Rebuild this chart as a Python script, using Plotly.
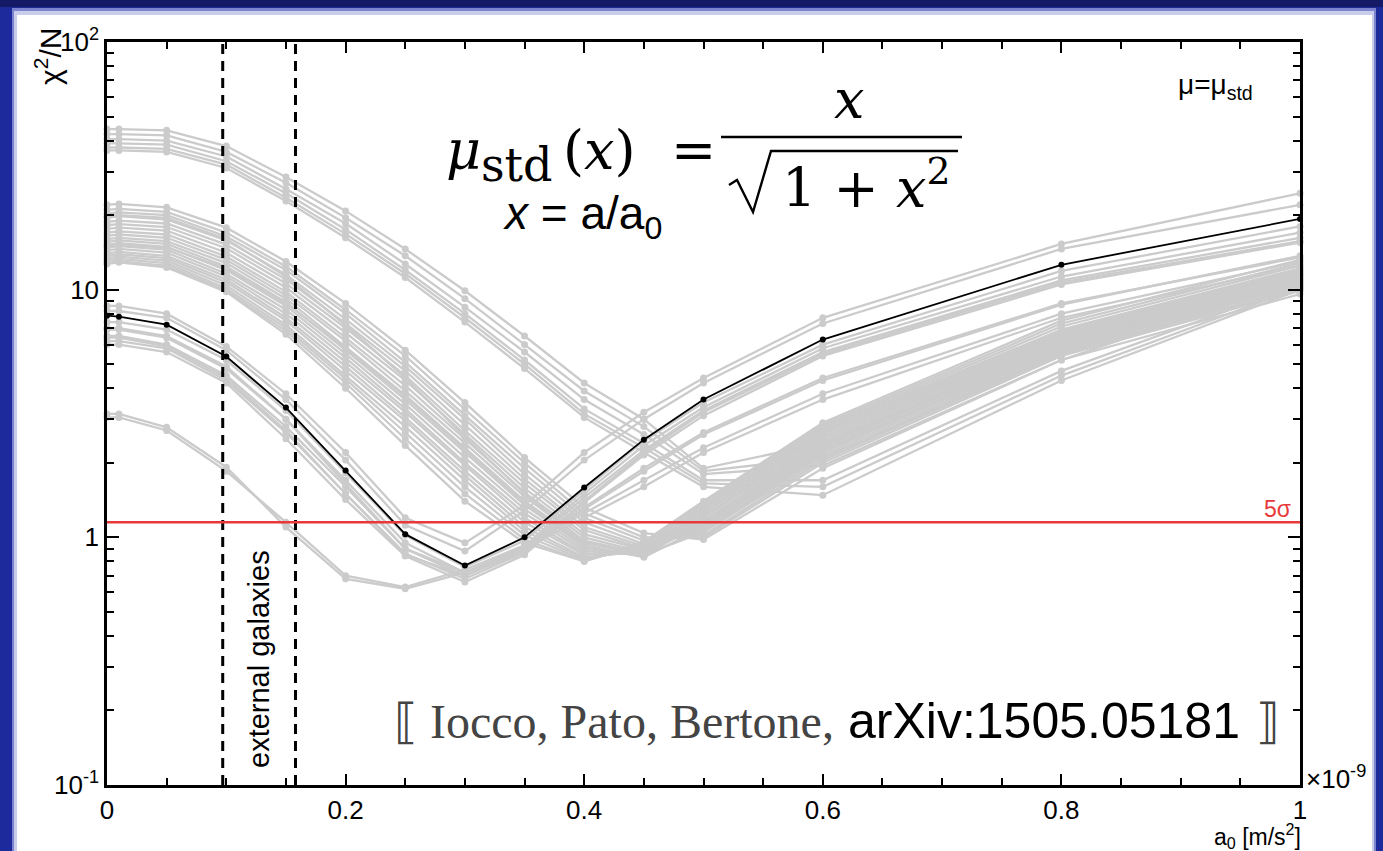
import plotly.graph_objects as go

# ---------------- data ----------------
A0 = [0, 0.01, 0.05, 0.1, 0.15, 0.2, 0.25, 0.3, 0.35, 0.4, 0.45, 0.5, 0.6, 0.8, 1.0]

BEST = [7.85, 7.78, 7.22, 5.37, 3.34, 1.86, 1.03, 0.77, 1.0, 1.59, 2.48, 3.6, 6.29, 12.6, 19.3]

TOP_GROUP = [
    [44.5, 44.5, 44.0, 38.0, 28.5, 20.8, 14.6, 9.9, 6.5, 4.2, 3.0, 1.9, 2.4, 6.0, 12.0],
    [42.5, 42.5, 42.0, 36.0, 27.0, 19.5, 13.7, 9.2, 6.0, 3.9, 2.8, 1.85, 2.1, 5.5, 11.5],
    [40.5, 40.5, 40.0, 34.5, 25.5, 18.5, 12.7, 8.5, 5.6, 3.6, 2.6, 1.8, 1.95, 5.2, 11.0],
    [39.0, 39.0, 38.5, 33.0, 24.5, 17.5, 12.0, 8.0, 5.2, 3.3, 2.4, 1.7, 1.7, 4.7, 10.5],
    [37.5, 37.5, 37.0, 32.0, 23.5, 16.8, 11.6, 7.7, 5.0, 3.15, 2.3, 1.65, 1.6, 4.5, 10.2],
    [36.5, 36.5, 36.0, 31.0, 22.8, 16.2, 11.2, 7.4, 4.8, 3.05, 2.2, 1.6, 1.48, 4.3, 10.0],
]

MID_GROUP = [
    [22.0, 22.2, 21.5, 17.8, 13.0, 8.8, 5.7, 3.5, 2.1, 1.32, 1.04, 0.98, 1.9, 5.2, 9.6],
    [21.0, 21.2, 20.6, 17.0, 12.4, 8.3, 5.4, 3.3, 2.0, 1.25, 1.0, 1.0, 2.0, 5.4, 9.9],
    [20.3, 20.5, 20.0, 16.4, 12.0, 8.0, 5.1, 3.1, 1.9, 1.2, 0.97, 1.02, 2.05, 5.5, 10.1],
    [19.8, 20.0, 19.5, 16.0, 11.3, 7.2, 4.4, 2.55, 1.5, 0.96, 0.85, 1.05, 2.2, 5.9, 10.6],
    [19.5, 19.8, 19.2, 15.8, 11.5, 7.6, 4.9, 3.0, 1.8, 1.15, 0.94, 1.05, 2.1, 5.6, 10.2],
    [18.8, 19.0, 18.5, 15.2, 11.0, 7.3, 4.7, 2.85, 1.72, 1.1, 0.92, 1.07, 2.15, 5.7, 10.4],
    [18.2, 18.4, 17.9, 14.7, 10.6, 7.0, 4.5, 2.7, 1.65, 1.07, 0.9, 1.09, 2.2, 5.8, 10.5],
    [17.6, 17.8, 17.3, 14.1, 10.2, 6.7, 4.3, 2.6, 1.58, 1.03, 0.89, 1.1, 2.25, 5.9, 10.7],
    [17.0, 17.2, 16.7, 13.6, 9.8, 6.4, 4.1, 2.5, 1.52, 1.0, 0.87, 1.12, 2.3, 6.0, 10.8],
    [16.5, 16.7, 16.2, 13.2, 9.5, 6.2, 3.9, 2.4, 1.46, 0.97, 0.86, 1.14, 2.35, 6.1, 11.0],
    [16.0, 16.2, 15.7, 12.8, 9.2, 5.9, 3.75, 2.3, 1.4, 0.95, 0.85, 1.15, 2.4, 6.2, 11.1],
    [15.6, 15.8, 15.3, 12.4, 8.9, 5.7, 3.6, 2.2, 1.35, 0.92, 0.84, 1.17, 2.45, 6.3, 11.3],
    [15.2, 15.4, 14.9, 12.0, 8.6, 5.5, 3.45, 2.1, 1.3, 0.9, 0.84, 1.2, 2.5, 6.4, 11.4],
    [15.0, 15.2, 14.8, 12.2, 8.8, 5.8, 3.7, 2.25, 1.38, 0.93, 0.83, 1.1, 2.3, 6.1, 11.0],
    [14.8, 15.0, 14.5, 11.6, 8.3, 5.3, 3.3, 2.0, 1.25, 0.88, 0.85, 1.22, 2.55, 6.5, 11.6],
    [14.4, 14.6, 14.1, 11.3, 8.0, 5.1, 3.2, 1.95, 1.2, 0.86, 0.86, 1.25, 2.6, 6.6, 11.7],
    [14.0, 14.2, 13.7, 11.0, 7.7, 4.9, 3.05, 1.85, 1.15, 0.85, 0.87, 1.27, 2.65, 6.7, 11.9],
    [13.7, 13.9, 13.4, 10.7, 7.5, 4.7, 2.95, 1.78, 1.1, 0.83, 0.88, 1.3, 2.7, 6.8, 12.0],
    [13.4, 13.6, 13.1, 10.4, 7.2, 4.5, 2.8, 1.7, 1.06, 0.82, 0.9, 1.32, 2.75, 6.9, 12.2],
    [13.1, 13.3, 12.8, 10.1, 7.0, 4.35, 2.65, 1.6, 1.02, 0.81, 0.92, 1.35, 2.8, 7.1, 12.5],
    [12.8, 13.0, 12.5, 9.9, 6.8, 4.2, 2.5, 1.5, 0.98, 0.8, 0.94, 1.38, 2.85, 7.3, 12.8],
    [12.7, 12.9, 12.3, 9.8, 6.6, 4.0, 2.35, 1.4, 0.95, 0.8, 0.96, 1.4, 2.9, 7.5, 13.2],
]

LOW_GROUP = [
    [8.6, 8.6, 8.0, 5.9, 3.8, 2.2, 1.2, 0.95, 1.35, 2.2, 3.2, 4.4, 7.7, 15.3, 24.5],
    [8.2, 8.2, 7.7, 5.7, 3.6, 2.05, 1.12, 0.88, 1.28, 2.05, 3.0, 4.2, 7.3, 14.6, 22.0],
    [7.4, 7.4, 6.9, 5.2, 3.25, 1.82, 1.02, 0.76, 0.97, 1.55, 2.45, 3.5, 6.0, 11.9, 18.0],
    [6.9, 6.9, 6.4, 4.8, 3.0, 1.7, 0.95, 0.72, 0.92, 1.5, 2.35, 3.35, 5.8, 11.3, 17.0],
    [6.5, 6.5, 6.0, 4.5, 2.8, 1.6, 0.9, 0.7, 0.9, 1.45, 2.25, 3.25, 5.6, 10.9, 16.2],
    [6.2, 6.2, 5.8, 4.3, 2.65, 1.5, 0.86, 0.68, 0.87, 1.4, 2.2, 3.2, 5.5, 10.7, 15.7],
    [6.0, 6.0, 5.6, 4.2, 2.5, 1.42, 0.84, 0.66, 0.85, 1.38, 2.15, 3.1, 5.4, 10.5, 15.5],
]

STEEP_GROUP = [
    [3.15, 3.15, 2.78, 1.92, 1.1, 0.68, 0.62, 0.72, 0.9, 1.2, 1.6, 2.2, 3.6, 7.7, 12.5],
    [3.05, 3.05, 2.7, 1.85, 1.15, 0.7, 0.63, 0.74, 0.93, 1.25, 1.7, 2.3, 3.8, 8.0, 13.0],
    [6.4, 6.4, 5.9, 4.4, 2.7, 1.5, 0.85, 0.7, 0.88, 1.3, 1.85, 2.6, 4.3, 8.7, 13.7],
    [7.0, 7.0, 6.5, 4.9, 3.0, 1.65, 0.9, 0.72, 0.9, 1.32, 1.9, 2.65, 4.4, 8.8, 13.5],
]

EXT_GAL = [0.097, 0.158]      # external galaxies range (x 1e-9 m/s^2)
FIVE_SIGMA = 1.15             # 5 sigma threshold on chi2/N

X_TICKS = [0, 0.2, 0.4, 0.6, 0.8, 1]
Y_TICKS = [0.1, 1, 10, 100]
Y_TICKTEXT = ["10<sup>-1</sup>", "1", "10", "10<sup>2</sup>"]

# ---------------- figure ----------------
W, H = 1383, 851
ML, MR, MT, MB = 107, 83, 42, 66
PW, PH = W - ML - MR, H - MT - MB


def px(x):
    return (x - ML) / PW


def py(y):
    return (H - MB - y) / PH


SANS = "Liberation Sans, Arial, sans-serif"
SERIF = "Liberation Serif, Times New Roman, serif"
MATH = "DejaVu Serif, serif"
GREY = "#cbcbcb"

fig = go.Figure()

for grp in (TOP_GROUP, MID_GROUP, LOW_GROUP, STEEP_GROUP):
    for ys in grp:
        fig.add_trace(go.Scatter(
            x=A0, y=ys, mode="lines+markers",
            line=dict(color=GREY, width=2.3),
            marker=dict(color=GREY, size=7),
            cliponaxis=False, showlegend=False, hoverinfo="skip"))

fig.add_trace(go.Scatter(
    x=A0, y=BEST, mode="lines+markers",
    line=dict(color="black", width=1.8),
    marker=dict(color="black", size=6),
    cliponaxis=False, showlegend=False))

shapes = []
# slide frame
shapes.append(dict(type="rect", xref="paper", yref="paper", layer="below",
                   x0=px(0), x1=px(W), y0=py(H), y1=py(0),
                   fillcolor="#1c2a9c", line=dict(width=0)))
shapes.append(dict(type="rect", xref="paper", yref="paper", layer="below",
                   x0=px(0), x1=px(W), y0=py(7), y1=py(0),
                   fillcolor="#141a66", line=dict(width=0)))
shapes.append(dict(type="rect", xref="paper", yref="paper", layer="below",
                   x0=px(12), x1=px(1376), y0=py(H), y1=py(8),
                   fillcolor="#7b84cc", line=dict(width=0)))
shapes.append(dict(type="rect", xref="paper", yref="paper", layer="below",
                   x0=px(14), x1=px(1374), y0=py(H), y1=py(11),
                   fillcolor="#c9cdec", line=dict(width=0)))
shapes.append(dict(type="rect", xref="paper", yref="paper", layer="below",
                   x0=px(17), x1=px(1372), y0=py(H), y1=py(15),
                   fillcolor="white", line=dict(width=0)))
# external galaxies band edges
for xv in EXT_GAL:
    shapes.append(dict(type="line", xref="x", yref="paper", x0=xv, x1=xv, y0=0, y1=1,
                       line=dict(color="black", width=3, dash="10px,7px")))
# 5 sigma line
shapes.append(dict(type="line", xref="paper", yref="y", x0=0, x1=1,
                   y0=FIVE_SIGMA, y1=FIVE_SIGMA,
                   line=dict(color="#e8393a", width=2.6)))
# formula fraction bar and square-root sign
shapes.append(dict(type="line", xref="paper", yref="paper", x0=px(721), x1=px(962),
                   y0=py(137), y1=py(137), line=dict(color="black", width=2.5)))
sqrt_pts = [(729, 185), (737, 180), (753, 212), (771, 151), (958, 151)]
path = "M " + " L ".join(f"{px(a):.5f},{py(b):.5f}" for a, b in sqrt_pts)
shapes.append(dict(type="path", xref="paper", yref="paper", path=path,
                   line=dict(color="black", width=2.4)))

ann = []


def add_text(text, x, y, size, font=SANS, color="black", xanchor="center",
             yanchor="middle", angle=0):
    ann.append(dict(text=text, x=px(x), y=py(y), xref="paper", yref="paper",
                    showarrow=False, xanchor=xanchor, yanchor=yanchor,
                    textangle=angle, font=dict(size=size, family=font, color=color)))


add_text("χ<sup>2</sup>/N", 48, 57, 30, angle=-90)
add_text("×10<sup>-9</sup>", 1304, 777, 26, xanchor="left")
add_text("a<sub>0</sub> [m/s<sup>2</sup>]", 1303, 836, 23, xanchor="right")
add_text("μ=μ<sub>std</sub>", 1176, 86, 28, xanchor="left")
add_text("5σ", 1293, 509, 23, color="#e8393a", xanchor="right")
add_text("external galaxies", 259, 659, 29, angle=-90)
# formula pieces
add_text("<i>μ</i>", 463, 150, 54, font=MATH)
add_text("std", 517, 165, 46, font=MATH)
add_text("(<i>x</i>)", 599, 150, 54, font=MATH)
add_text("=", 693, 150, 54, font=MATH)
add_text("<i>x</i>", 849, 100, 54, font=MATH)
add_text("1 + <i>x</i><sup>2</sup>", 866, 184, 54, font=MATH)
add_text("<i>x</i> = a/a<sub>0</sub>", 582, 217, 46)
# citation
add_text("⟦ Iocco, Pato, Bertone,", 836, 721, 48, font=SERIF, color="#444444",
         xanchor="right")
add_text("arXiv:1505.05181", 846, 721, 50, xanchor="left")
add_text("⟧", 1282, 721, 48, font=SERIF, color="#444444", xanchor="right")

fig.update_layout(
    width=W, height=H, autosize=False,
    margin=dict(l=ML, r=MR, t=MT, b=MB, pad=0),
    paper_bgcolor="white", plot_bgcolor="white",
    shapes=shapes, annotations=ann, showlegend=False,
    font=dict(family=SANS, color="black"),
)

fig.update_xaxes(
    range=[0, 1], tickvals=X_TICKS, ticks="inside", ticklen=11, tickwidth=2,
    tickcolor="black", showline=True, linecolor="black", linewidth=2.5,
    mirror="ticks", showgrid=False, zeroline=False,
    tickfont=dict(size=26, family=SANS),
    minor=dict(ticks="inside", ticklen=7, tickwidth=2, tickcolor="black",
               dtick=0.05, showgrid=False),
)
fig.update_yaxes(
    type="log", range=[-1, 2], tickvals=Y_TICKS, ticktext=Y_TICKTEXT,
    ticks="inside", ticklen=12, tickwidth=2, tickcolor="black",
    showline=True, linecolor="black", linewidth=2.5, mirror="ticks",
    showgrid=False, zeroline=False, tickfont=dict(size=26, family=SANS),
    minor=dict(ticks="inside", ticklen=7, tickwidth=2, tickcolor="black",
               dtick="D1", showgrid=False),
)

fig.write_html("out.html")
